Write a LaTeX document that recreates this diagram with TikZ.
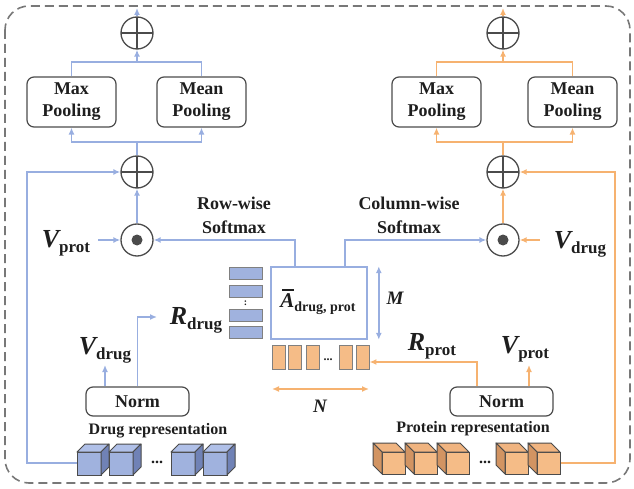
\documentclass[tikz,border=0pt]{standalone}
\usepackage{fontspec}
\setmainfont{Liberation Serif}
\usetikzlibrary{arrows.meta}

\definecolor{lineblue}{RGB}{152,174,224}
\definecolor{lineorange}{RGB}{246,178,112}
\definecolor{barblue}{RGB}{160,178,222}
\definecolor{barorange}{RGB}{245,188,135}
\definecolor{cubeblueside}{RGB}{112,130,182}
\definecolor{cubebluetop}{RGB}{176,192,232}
\definecolor{cubeorside}{RGB}{210,148,98}
\definecolor{cubeortop}{RGB}{240,180,128}
\definecolor{edgegray}{RGB}{75,75,75}
\definecolor{framegray}{RGB}{120,120,120}
\definecolor{ink}{RGB}{30,30,30}

% symbol with a bold upright subscript
\newcommand\mlab[2]{\fontsize{26}{26}\selectfont\bfseries\itshape #1\raisebox{-5pt}{\fontsize{17}{17}\selectfont\upshape #2}}
% A with a bar on top
\newcommand\Abar{\leavevmode\rlap{\raisebox{17pt}{\hspace{2pt}\rule{12pt}{1.8pt}}}A}

% drug token cube: front face lower-left corner x, depth to the upper right
\newcommand\drugcube[1]{%
  \filldraw[draw=edgegray, line width=1pt, fill=barblue] (#1,452) rectangle ++(24,23);
  \filldraw[draw=edgegray, line width=1pt, fill=cubebluetop, line join=round] (#1,452) -- ++(8,-8) -- ++(24,0) -- ++(-8,8) -- cycle;
  \filldraw[draw=edgegray, line width=1pt, fill=cubeblueside, line join=round] (#1+24,452) -- ++(8,-8) -- ++(0,23) -- ++(-8,8) -- cycle;
}
% protein token cube: depth to the upper left
\newcommand\protcube[1]{%
  \filldraw[draw=edgegray, line width=1pt, fill=barorange] (#1,452) rectangle ++(23,22);
  \filldraw[draw=edgegray, line width=1pt, fill=cubeortop, line join=round] (#1,452) -- ++(-9,-9) -- ++(23,0) -- ++(9,9) -- cycle;
  \filldraw[draw=edgegray, line width=1pt, fill=cubeorside, line join=round] (#1,452) -- ++(-9,-9) -- ++(0,22) -- ++(9,9) -- cycle;
}

\tikzset{
  wire/.style={line width=1.6pt},
  bwire/.style={wire, draw=lineblue},
  owire/.style={wire, draw=lineorange},
  tip/.style={-{Latex[length=7pt,width=6pt]}},
  dtip/.style={{Latex[length=7pt,width=6pt]}-{Latex[length=7pt,width=6pt]}},
  pool/.style={draw=edgegray, line width=1.2pt, rounded corners=7pt, minimum width=89pt,
    minimum height=50pt, align=center, inner sep=0pt, font=\fontsize{18}{22}\selectfont\bfseries},
  normbox/.style={draw=edgegray, line width=1.2pt, rounded corners=7pt, minimum width=103pt,
    minimum height=29pt, inner sep=0pt, font=\fontsize{18}{20}\selectfont\bfseries},
  opplus/.style={circle, draw=edgegray, line width=1.3pt, minimum size=32pt, inner sep=0pt,
    path picture={\draw[edgegray, line width=1.3pt]
      (path picture bounding box.north) -- (path picture bounding box.south)
      (path picture bounding box.west) -- (path picture bounding box.east);}},
  opdot/.style={circle, draw=edgegray, line width=1.3pt, minimum size=32pt, inner sep=0pt,
    path picture={\fill[edgegray] (path picture bounding box.center) circle (5.5pt);}},
  lab/.style={inner sep=0pt, font=\fontsize{18}{24}\selectfont\bfseries, align=center},
  replab/.style={inner sep=0pt, font=\fontsize{16}{18}\selectfont\bfseries},
  sym/.style={inner sep=0pt},
  dimlab/.style={inner sep=0pt, font=\fontsize{19}{19}\selectfont\bfseries\itshape},
  bbar/.style={draw=gray, line width=0.9pt, fill=barblue, minimum width=33pt, minimum height=12pt, inner sep=0pt},
  obar/.style={draw=gray, line width=0.9pt, fill=barorange, minimum width=13pt, minimum height=24pt, inner sep=0pt},
}

\begin{document}
\begin{tikzpicture}[x=1pt, y=-1pt, text=ink]
\useasboundingbox (0,0) rectangle (634,489);

% dashed outer frame
\draw[framegray, line width=1.6pt, dash pattern=on 9pt off 5pt, rounded corners=24pt] (5,6) rectangle (630,483);

% ---------- drug branch (left) ----------
\node[opplus] (ls) at (137,33) {};
\node[pool] (lmax) at (71.5,102) {Max\\Pooling};
\node[pool] (lmean) at (201.5,102) {Mean\\Pooling};
\node[opplus] (lsum) at (137,172) {};
\node[opdot] (lmul) at (137,240) {};

\coordinate (lout) at (137,8);
\coordinate (ljoin) at (137,62);
\coordinate (lsplit) at (137,142);
\coordinate (lrail) at (27,172);
\coordinate (lvpin) at (98,240);
\coordinate (dcw) at (77,463);

\draw[bwire,tip] (ls.north) -- (lout);
\draw[bwire] (lmax.north) |- (ljoin) -| (lmean.north);
\draw[bwire,tip] (ljoin) -- (ls.south);
\draw[bwire] (lsum.north) -- (lsplit);
\draw[bwire,tip] (lsplit) -| (lmax.south);
\draw[bwire,tip] (lsplit) -| (lmean.south);
\draw[bwire,tip] (lmul.north) -- (lsum.south);
\draw[bwire,tip] (dcw) -| (lrail) -- (lsum.west);
\draw[bwire,tip] (lvpin) -- (lmul.west);

\node[sym] (lvp) at (66,243) {\mlab{V}{prot}};
\node[lab] (rowsm) at (234,215) {Row-wise\\Softmax};

% ---------- protein branch (right) ----------
\node[opplus] (rs) at (503,33) {};
\node[pool] (rmax) at (436.5,102) {Max\\Pooling};
\node[pool] (rmean) at (572.5,102) {Mean\\Pooling};
\node[opplus] (rsum) at (503,172) {};
\node[opdot] (rmul) at (503,240) {};

\coordinate (rout) at (503,8);
\coordinate (rjoin) at (503,62);
\coordinate (rsplit) at (503,142);
\coordinate (rrail) at (615,172);
\coordinate (rvdin) at (540,240);
\coordinate (pce) at (561,463);

\draw[owire,tip] (rs.north) -- (rout);
\draw[owire] (rmax.north) |- (rjoin) -| (rmean.north);
\draw[owire,tip] (rjoin) -- (rs.south);
\draw[owire] (rsum.north) -- (rsplit);
\draw[owire,tip] (rsplit) -| (rmax.south);
\draw[owire,tip] (rsplit) -| (rmean.south);
\draw[owire,tip] (rmul.north) -- (rsum.south);
\draw[owire,tip] (pce) -| (rrail) -- (rsum.east);
\draw[owire,tip] (rvdin) -- (rmul.east);

\node[sym] (rvd) at (580,244) {\mlab{V}{drug}};
\node[lab] (colsm) at (409,215) {Column-wise\\Softmax};

% ---------- affinity matrix ----------
\node[draw=lineblue, line width=1.6pt, fill=white, minimum width=96pt, minimum height=72pt, inner sep=0pt] (abox) at (319,303) {};
\node[sym] (alab) at (318,302) {\fontsize{21}{21}\selectfont\bfseries\itshape\Abar\raisebox{-4pt}{\fontsize{14}{14}\selectfont\upshape drug, prot}};

\draw[bwire,tip] ([xshift=-24pt]abox.north) |- (lmul.east);
\draw[bwire,tip] ([xshift=26pt]abox.north) |- (rmul.west);
\draw[bwire,dtip] ([xshift=11pt]abox.north east) -- ([xshift=11pt]abox.south east);
\node[dimlab] (mlab) at (395,298) {M};

% drug rows
\node[bbar] (bb1) at (245.5,273.5) {};
\node[bbar] (bb2) at (245.5,291) {};
\node[bbar] (bb3) at (245.5,315) {};
\node[bbar] (bb4) at (245.5,332) {};
\node[inner sep=0pt, font=\fontsize{10}{10}\selectfont\bfseries] (bcol) at (245.5,303) {:};

% protein columns
\node[obar] (ob1) at (279,357) {};
\node[obar] (ob2) at (295,357) {};
\node[obar] (ob3) at (312.5,357) {};
\node[obar] (ob4) at (345.5,357) {};
\node[obar] (ob5) at (362.5,357) {};
\node[inner sep=0pt, font=\fontsize{12}{12}\selectfont\bfseries] (odots) at (328,360) {...};

\coordinate (nl) at (272,389);
\coordinate (nr) at (369,389);
\draw[owire,dtip] (nl) -- (nr);
\node[dimlab] (nlab) at (320,406) {N};

% ---------- drug input ----------
\node[normbox] (lnorm) at (137.5,401.5) {Norm};
\coordinate (lvdtip) at (105,365);
\coordinate (lrdtip) at (157,317);
\draw[bwire,tip] (lnorm.north -| lvdtip) -- (lvdtip);
\draw[bwire,tip] (lnorm.north) |- (lrdtip);
\node[sym] (lvd) at (105,350) {\mlab{V}{drug}};
\node[sym] (rdl) at (196,320) {\mlab{R}{drug}};
\node[replab] (drep) at (158,431) {Drug representation};
\foreach \x in {77,109,171,203} {\drugcube{\x}}
\node[inner sep=0pt, font=\fontsize{16}{16}\selectfont\bfseries] (ddots) at (157,462) {...};

% ---------- protein input ----------
\node[normbox] (rnorm) at (501.5,401.5) {Norm};
\coordinate (rvptip) at (529,365);
\draw[owire,tip] (rnorm.north -| rvptip) -- (rvptip);
\draw[owire,tip] ([xshift=-24.5pt]rnorm.north) |- ([yshift=-5pt]ob5.east);
\node[sym] (rvp) at (525,349) {\mlab{V}{prot}};
\node[sym] (rpl) at (432,346) {\mlab{R}{prot}};
\node[replab] (prep) at (473,429) {Protein representation};
\foreach \x in {382,414,446,505,537} {\protcube{\x}}
\node[inner sep=0pt, font=\fontsize{16}{16}\selectfont\bfseries] (pdots) at (485,462) {...};

\end{tikzpicture}
\end{document}
